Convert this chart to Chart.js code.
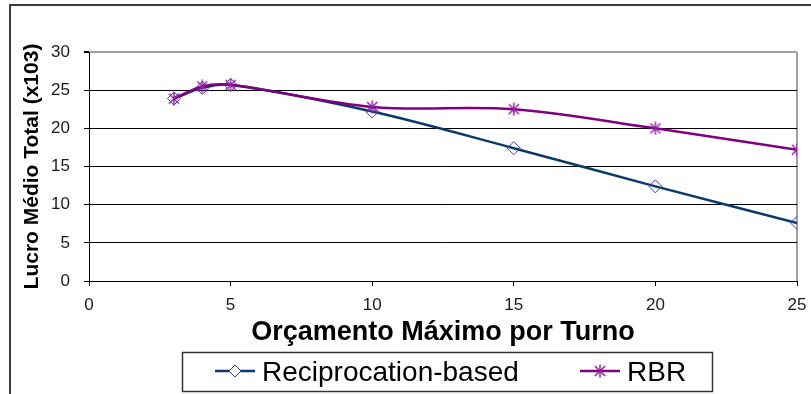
<!DOCTYPE html>
<html>
<head>
<meta charset="utf-8">
<script src="https://cdn.jsdelivr.net/npm/chart.js@4.4.1/dist/chart.umd.min.js"></script>
<style>
  html, body { margin: 0; padding: 0; background: #ffffff; }
  #wrap { width: 811px; height: 394px; }
</style>
</head>
<body>
<div id="wrap"><canvas id="c" width="811" height="394"></canvas></div>
<script>
// Budget per turn (x) and mean total profit (x10^3) for each strategy
const budgets = [3, 4, 5, 10, 15, 20, 25];
const reciprocationProfit = [23.9, 25.3, 25.7, 22.2, 17.4, 12.4, 7.6];
const rbrProfit = [23.9, 25.5, 25.7, 22.8, 22.5, 20.0, 17.2];
const seriesNames = ['Reciprocation-based', 'RBR'];
const xTickValues = [0, 5, 10, 15, 20, 25];
const yTickValues = [0, 5, 10, 15, 20, 25, 30];

const tickFont = '"Liberation Sans Narrow", "Liberation Sans", Arial, sans-serif';
const textFont = '"Liberation Sans", Arial, sans-serif';

const recipLine = '#0a3a6c';
const recipMarker = '#3a3ab8';
const rbrLine = '#800080';
const rbrMarker = '#9424a4';

// asterisk marker: vertical stroke plus an X
function asteriskMarker(size, color) {
  const c = document.createElement('canvas');
  c.width = size; c.height = size;
  const g = c.getContext('2d');
  const m = size / 2, r = size / 2 - 0.5, d = r * 0.78;
  g.strokeStyle = color;
  g.lineWidth = 1.5;
  g.beginPath();
  g.moveTo(m, m - r); g.lineTo(m, m + r);
  g.moveTo(m - d, m - d); g.lineTo(m + d, m + d);
  g.moveTo(m - d, m + d); g.lineTo(m + d, m - d);
  g.stroke();
  return c;
}
const starImg = asteriskMarker(14, rbrMarker);

const toPoints = ys => budgets.map((x, i) => ({ x: x, y: ys[i] }));

// page frame, plot-area edge and boxed legend
const decorPlugin = {
  id: 'decor',
  beforeDraw(chart) {
    const { ctx, chartArea: a } = chart;
    ctx.save();
    ctx.strokeStyle = '#3c3c3c';
    ctx.lineWidth = 2;
    ctx.beginPath();
    ctx.moveTo(10, 394); ctx.lineTo(10, 5); ctx.lineTo(811, 5);
    ctx.stroke();
    ctx.strokeStyle = '#a0a0a0';
    ctx.lineWidth = 2;
    ctx.beginPath();
    ctx.moveTo(a.right, a.top); ctx.lineTo(a.right, a.bottom);
    ctx.stroke();
    ctx.restore();
  },
  afterDraw(chart) {
    const ctx = chart.ctx;
    ctx.save();
    ctx.strokeStyle = '#333333';
    ctx.lineWidth = 1.5;
    ctx.strokeRect(182.5, 352.5, 530, 39);
    const items = [
      { x0: 215, ds: chart.data.datasets[0], kind: 'diamond' },
      { x0: 580, ds: chart.data.datasets[1], kind: 'star' }
    ];
    const ly = 371;
    items.forEach(it => {
      ctx.strokeStyle = it.ds.borderColor;
      ctx.lineWidth = 2.5;
      ctx.beginPath();
      ctx.moveTo(it.x0, ly); ctx.lineTo(it.x0 + 40, ly);
      ctx.stroke();
      const cx = it.x0 + 20;
      if (it.kind === 'diamond') {
        ctx.strokeStyle = recipMarker;
        ctx.fillStyle = '#ffffff';
        ctx.lineWidth = 1;
        ctx.beginPath();
        ctx.moveTo(cx - 6, ly); ctx.lineTo(cx, ly - 6); ctx.lineTo(cx + 6, ly); ctx.lineTo(cx, ly + 6);
        ctx.closePath();
        ctx.fill();
        ctx.stroke();
      } else {
        ctx.drawImage(starImg, cx - starImg.width / 2, ly - starImg.height / 2);
      }
      ctx.fillStyle = '#000000';
      ctx.font = '28px ' + textFont;
      ctx.textBaseline = 'alphabetic';
      ctx.textAlign = 'left';
      ctx.fillText(it.ds.label, it.x0 + 47, 381);
    });
    ctx.restore();
  }
};

new Chart(document.getElementById('c'), {
  type: 'line',
  data: {
    datasets: [
      {
        label: seriesNames[0],
        data: toPoints(reciprocationProfit),
        borderColor: recipLine,
        borderWidth: 2.5,
        pointStyle: 'rectRot',
        pointRadius: 6.5,
        pointBorderWidth: 1,
        pointBorderColor: recipMarker,
        pointBackgroundColor: 'rgba(0,0,0,0)',
        tension: 0.33,
        order: 1
      },
      {
        label: seriesNames[1],
        data: toPoints(rbrProfit),
        borderColor: rbrLine,
        borderWidth: 2.5,
        pointStyle: starImg,
        pointRadius: 7,
        tension: 0.33,
        order: 0
      }
    ]
  },
  options: {
    responsive: false,
    animation: false,
    layout: { padding: { left: 0, top: 52, right: 14, bottom: 0 } },
    plugins: { legend: { display: false }, tooltip: { enabled: false } },
    scales: {
      x: {
        type: 'linear',
        min: 0,
        max: 25,
        afterBuildTicks: s => { s.ticks = xTickValues.map(v => ({ value: v })); },
        afterFit: s => { s.height = 113; s.paddingLeft = 0; s.paddingRight = 0; },
        grid: { drawOnChartArea: false, drawTicks: true, tickLength: 5, color: '#000000', lineWidth: 1 },
        border: { color: '#000000', width: 1 },
        ticks: { font: { family: tickFont, size: 17 }, color: '#1a1a1a', padding: 9, maxRotation: 0 },
        title: {
          display: true,
          text: 'Orçamento Máximo por Turno',
          font: { family: textFont, size: 27, weight: 'bold' },
          color: '#000000',
          padding: { top: 0, bottom: 45 }
        }
      },
      y: {
        type: 'linear',
        min: 0,
        max: 30,
        afterBuildTicks: s => { s.ticks = yTickValues.map(v => ({ value: v })); },
        afterFit: s => { s.width = 89; s.paddingTop = 0; s.paddingBottom = 0; },
        grid: {
          drawTicks: true,
          tickLength: 5,
          tickColor: '#000000',
          color: c => (c.tick && c.tick.value === 30) ? '#a0a0a0' : '#000000',
          lineWidth: c => (c.tick && c.tick.value === 30) ? 2 : 1
        },
        border: { color: '#000000', width: 1 },
        ticks: { font: { family: tickFont, size: 17 }, color: '#1a1a1a', padding: 14 },
        title: {
          display: true,
          text: 'Lucro Médio Total (x103)',
          font: { family: textFont, size: 21, weight: 'bold' },
          color: '#000000',
          padding: { top: 20, bottom: 0 }
        }
      }
    }
  },
  plugins: [decorPlugin]
});
</script>
</body>
</html>
